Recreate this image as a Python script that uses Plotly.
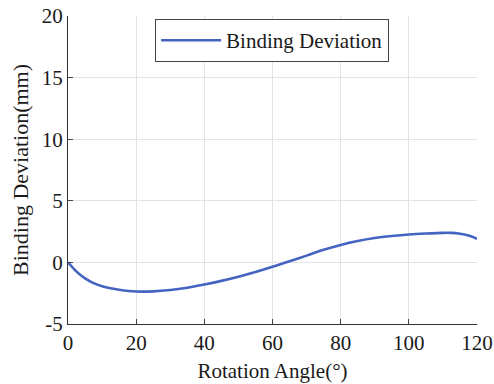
import plotly.graph_objects as go

angle = [0, 2.5, 5, 7.5, 10, 12.5, 15, 20, 25, 30, 35, 40, 45, 50, 55, 60, 65, 70, 75, 80,
         85, 90, 95, 100, 105, 110, 112.5, 115, 117.5, 120]
deviation = [0, -0.75, -1.3, -1.68, -1.93, -2.1, -2.22, -2.36, -2.35, -2.24, -2.05, -1.79,
             -1.5, -1.16, -0.78, -0.36, 0.1, 0.55, 1.02, 1.42, 1.74, 1.98, 2.14, 2.26, 2.34,
             2.40, 2.40, 2.33, 2.18, 1.92]

x_ticks = [0, 20, 40, 60, 80, 100, 120]
y_ticks = [-5, 0, 5, 10, 15, 20]
y_tick_text = ["-5", "0", "5", "10", "15", "20"]

serif = "Liberation Serif"
text_color = "#1a1a1a"

fig = go.Figure()
fig.add_trace(go.Scatter(
    x=angle, y=deviation, mode="lines", name="Binding Deviation",
    line=dict(color="#4563c1", width=2.6, shape="spline", smoothing=0.8),
))

fig.update_layout(
    width=494, height=384,
    margin=dict(l=68, r=17, t=16, b=60),
    paper_bgcolor="white", plot_bgcolor="white",
    font=dict(family=serif, size=21, color=text_color),
    showlegend=True,
    legend=dict(
        x=0.213, y=0.99, xanchor="left", yanchor="top",
        bordercolor="#444444", borderwidth=1, bgcolor="white",
        font=dict(family=serif, size=21, color=text_color),
        itemwidth=60,
    ),
    xaxis=dict(
        range=[0, 120], tickvals=x_ticks, ticks="inside", ticklen=5,
        showline=True, linecolor="#333333", linewidth=1.2, mirror=False,
        showgrid=True, gridcolor="#e3e3e3", gridwidth=1, zeroline=False,
        automargin=False,
        title=dict(text="Rotation Angle(°)", standoff=9,
                   font=dict(family=serif, size=21, color=text_color)),
        tickfont=dict(family=serif, size=21, color=text_color),
    ),
    yaxis=dict(
        range=[-5, 20], tickvals=y_ticks, ticktext=y_tick_text, ticks="inside", ticklen=5,
        showline=True, linecolor="#333333", linewidth=1.2, mirror=False,
        showgrid=True, gridcolor="#e3e3e3", gridwidth=1, zeroline=False,
        automargin=False,
        title=dict(text="Binding Deviation(mm)", standoff=7,
                   font=dict(family=serif, size=22, color=text_color)),
        tickfont=dict(family=serif, size=21, color=text_color),
    ),
)

fig.write_html("out.html")
